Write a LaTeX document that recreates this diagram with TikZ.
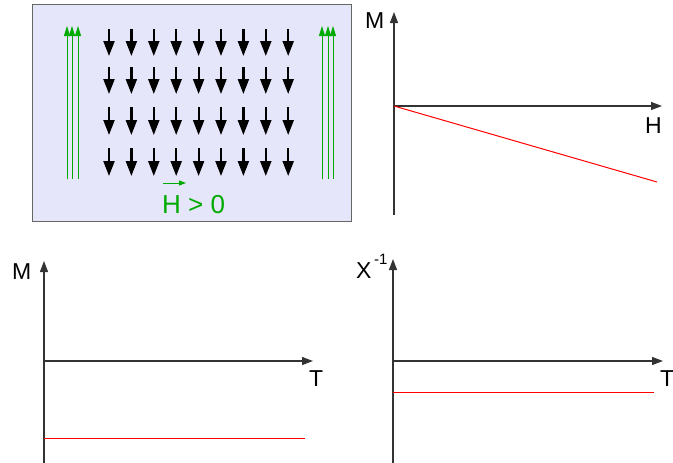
\documentclass[tikz,border=0pt]{standalone}
\usepackage{fontspec}
\setmainfont{Liberation Sans}
\usetikzlibrary{arrows.meta}
\definecolor{boxfill}{HTML}{E6E6FA}
\definecolor{boxline}{HTML}{666666}
\definecolor{fgreen}{HTML}{00AA00}
\definecolor{axisgray}{HTML}{333333}
\tikzset{
  spin/.style={line width=2.2pt, black, -{Triangle[width=11pt,length=15pt]}},
  fieldline/.style={line width=1pt, fgreen, -{Triangle[width=6pt,length=10pt]}},
  axis/.style={line width=1.3pt, axisgray, -{Triangle[width=8pt,length=11pt]}},
  curve/.style={line width=1pt, red},
  lbl/.style={inner sep=0pt, anchor=base west, font=\fontsize{23}{23}\selectfont},
}
\begin{document}
\begin{tikzpicture}[x=1pt,y=-1pt]
\useasboundingbox (0,0) rectangle (673,463);
% box
\draw[boxline, fill=boxfill, line width=1pt] (32,4) rectangle (351,221);
% green field lines
\foreach \x in {67,72,78,322,328,333} {
  \coordinate (gs\x) at (\x,179);
  \coordinate (ge\x) at (\x,26);
  \draw[fieldline] (gs\x) -- (ge\x);
}
% black spins
\foreach \i in {0,...,8} {
  \foreach \ya/\yb in {29/56, 67/94, 107/135, 148/176} {
    \coordinate (sa) at ({109+22.4*\i},\ya);
    \coordinate (sb) at ({109+22.4*\i},\yb);
    \draw[spin] (sa) -- (sb);
  }
}
% H > 0
\node[lbl, text=fgreen, font=\fontsize{26}{26}\selectfont] (hfield) at (162,213) {H > 0};
\coordinate (va) at (163,183);
\coordinate (vb) at (186,183);
\draw[line width=1pt, fgreen, -{Triangle[width=5pt,length=7pt]}] (va) -- (vb);

% graph 1: M vs H
\coordinate (o1) at (394,106);
\coordinate (y1b) at (394,215);
\coordinate (y1t) at (394,12);
\coordinate (x1e) at (662,106);
\coordinate (r1e) at (657,182);
\draw[axis] (y1b) -- (y1t);
\draw[axis] (o1) -- (x1e);
\draw[curve] (o1) -- (r1e);
\node[lbl] (m1) at (365,28) {M};
\node[lbl] (h1) at (645,133) {H};

% graph 2: M vs T
\coordinate (o2) at (44,361);
\coordinate (y2b) at (44,463);
\coordinate (y2t) at (44,261);
\coordinate (x2e) at (313,361);
\coordinate (r2s) at (44,438);
\coordinate (r2e) at (305,438);
\draw[axis] (y2b) -- (y2t);
\draw[axis] (o2) -- (x2e);
\draw[curve] (r2s) -- (r2e);
\node[lbl] (m2) at (12,279) {M};
\node[lbl] (t2) at (309,386) {T};

% graph 3: chi^-1 vs T
\coordinate (o3) at (393,361);
\coordinate (y3b) at (393,463);
\coordinate (y3t) at (393,259);
\coordinate (x3e) at (663,361);
\coordinate (r3s) at (393,392);
\coordinate (r3e) at (654,392);
\draw[axis] (y3b) -- (y3t);
\draw[axis] (o3) -- (x3e);
\draw[curve] (r3s) -- (r3e);
\node[lbl] (x3) at (356,278) {X};
\node[lbl, font=\fontsize{15}{15}\selectfont] (sup3) at (374,264) {-1};
\node[lbl] (t3) at (660,386) {T};
\end{tikzpicture}
\end{document}
